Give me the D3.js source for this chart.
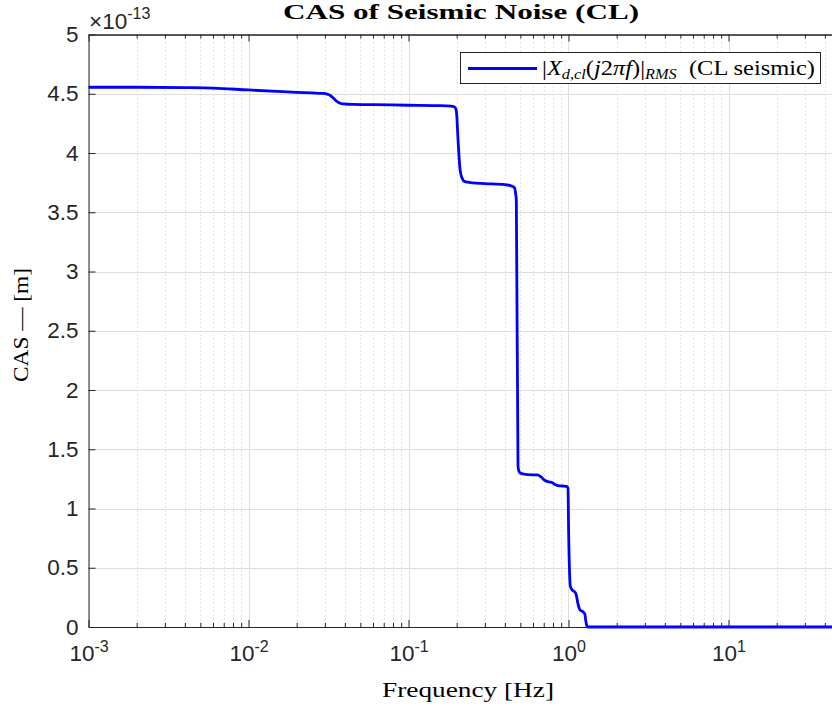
<!DOCTYPE html>
<meta charset="utf-8">
<style>

body {
  margin: 0;
  background: #fff;
}

svg {
  display: block;
}

.grid-major line {
  stroke: #dedede;
  stroke-width: 1px;
}

.grid-minor line {
  stroke: #c8c8c8;
  stroke-width: 1px;
  stroke-dasharray: 1,3;
}

.axis path,
.axis line {
  stroke: #262626;
  stroke-width: 1px;
}

.axis text,
.expo {
  font-family: "Liberation Sans", Arial, sans-serif;
  font-size: 22.5px;
  fill: #262626;
}

.serif {
  font-family: "Liberation Serif", "Times New Roman", serif;
  fill: #000;
}

.cas-line {
  fill: none;
  stroke: #0000ff;
  stroke-width: 2.8px;
  stroke-linejoin: round;
}

.legend-box {
  fill: #fff;
  stroke: #262626;
  stroke-width: 1px;
}

</style>
<body>
<script src="https://d3js.org/d3.v7.min.js"></script>
<script>

// frequency [Hz]
var freq = [0.001, 0.002, 0.004, 0.006, 0.01, 0.015, 0.02, 0.025, 0.029, 0.031,
  0.0325, 0.034, 0.0355, 0.037, 0.039, 0.045, 0.06, 0.1, 0.15, 0.185,
  0.193, 0.198, 0.2, 0.204, 0.21, 0.216, 0.225, 0.25, 0.3, 0.4,
  0.44, 0.46, 0.468, 0.472, 0.4835, 0.49, 0.498, 0.527, 0.6, 0.64,
  0.673, 0.713, 0.755, 0.789, 0.823, 0.86, 0.92, 0.975, 0.993, 1.002,
  1.029, 1.06, 1.095, 1.114, 1.147, 1.18, 1.21, 1.24, 1.265, 1.28,
  1.3, 1.324, 2, 5, 10, 50];

// cumulative amplitude spectrum, x 1e-13 m
var cas = [4.555, 4.555, 4.552, 4.548, 4.532, 4.52, 4.512, 4.507, 4.503, 4.497,
  4.485, 4.462, 4.437, 4.422, 4.415, 4.41, 4.408, 4.403, 4.40, 4.396,
  4.39, 4.37, 4.33, 4.11, 3.86, 3.79, 3.758, 3.748, 3.742, 3.734,
  3.722, 3.705, 3.65, 3.60, 1.36, 1.315, 1.3, 1.29, 1.284, 1.283,
  1.266, 1.236, 1.224, 1.219, 1.203, 1.194, 1.19, 1.186, 1.17, 0.80,
  0.338, 0.31, 0.295, 0.278, 0.194, 0.143, 0.135, 0.125, 0.11, 0.06,
  0.012, 0, 0, 0, 0, 0];

var xDecades = [1e-3, 1e-2, 1e-1, 1, 10];
var xDecadeExp = ["-3", "-2", "-1", "0", "1"];
var yTicks = [0, 0.5, 1, 1.5, 2, 2.5, 3, 3.5, 4, 4.5, 5];

var width = 832,
    height = 708,
    plotLeft = 88.5,
    plotTop = 34.5,
    plotBottom = 627;

// minor ticks 2..9 of each decade
var xMinor = [];
xDecades.forEach(function(d) {
  for (var k = 2; k <= 9; k++) xMinor.push(d * k);
});

var x = d3.scaleLog()
    .domain([1e-3, 50])
    .range([plotLeft, plotLeft + 160 * Math.log10(50 / 1e-3)]);

var y = d3.scaleLinear()
    .domain([0, 5])
    .range([plotBottom, plotTop]);

var svg = d3.select("body").append("svg")
    .attr("width", width)
    .attr("height", height);

// grid
svg.append("g")
    .attr("class", "grid-minor")
  .selectAll("line")
    .data(xMinor)
  .enter().append("line")
    .attr("x1", function(d) { return Math.round(x(d)) + 0.5; })
    .attr("x2", function(d) { return Math.round(x(d)) + 0.5; })
    .attr("y1", plotTop)
    .attr("y2", plotBottom);

var major = svg.append("g").attr("class", "grid-major");

major.selectAll("line.v")
    .data(xDecades)
  .enter().append("line")
    .attr("class", "v")
    .attr("x1", function(d) { return Math.round(x(d)) + 0.5; })
    .attr("x2", function(d) { return Math.round(x(d)) + 0.5; })
    .attr("y1", plotTop)
    .attr("y2", plotBottom);

major.selectAll("line.h")
    .data(yTicks)
  .enter().append("line")
    .attr("class", "h")
    .attr("x1", plotLeft)
    .attr("x2", width)
    .attr("y1", function(d) { return Math.round(y(d)) + 0.5; })
    .attr("y2", function(d) { return Math.round(y(d)) + 0.5; });

// data line
var line = d3.line()
    .x(function(d, i) { return x(freq[i]); })
    .y(function(d) { return y(d); })
    .curve(d3.curveMonotoneX);

svg.append("path")
    .datum(cas)
    .attr("class", "cas-line")
    .attr("d", line);

// axes
var xBottom = svg.append("g")
    .attr("class", "axis")
    .attr("transform", "translate(0," + plotBottom + ")")
    .call(d3.axisBottom(x).tickValues(xDecades).tickSizeInner(-7).tickSizeOuter(0).tickPadding(18));

xBottom.selectAll(".tick text")
    .text(null)
    .each(function(d, i) {
      var t = d3.select(this);
      t.append("tspan").text("10");
      t.append("tspan")
          .attr("dy", -9)
          .style("font-size", "16px")
          .text(xDecadeExp[i]);
    });

svg.append("g")
    .attr("class", "axis")
    .attr("transform", "translate(0," + plotBottom + ")")
    .call(d3.axisBottom(x).tickValues(xMinor).tickSizeInner(-4).tickSizeOuter(0).tickFormat(""));

svg.append("g")
    .attr("class", "axis")
    .attr("transform", "translate(0," + plotTop + ")")
    .call(d3.axisTop(x).tickValues(xDecades).tickSizeInner(-7).tickSizeOuter(0).tickFormat(""));

svg.append("g")
    .attr("class", "axis")
    .attr("transform", "translate(0," + plotTop + ")")
    .call(d3.axisTop(x).tickValues(xMinor).tickSizeInner(-4).tickSizeOuter(0).tickFormat(""));

svg.append("g")
    .attr("class", "axis")
    .attr("transform", "translate(" + plotLeft + ",0)")
    .call(d3.axisLeft(y).tickValues(yTicks).tickSizeInner(-7).tickSizeOuter(0)
      .tickPadding(10).tickFormat(d3.format("~g")));

// exponent
var expo = svg.append("text")
    .attr("class", "expo")
    .attr("x", 89)
    .attr("y", 29);
expo.append("tspan").text("\u00d710");
expo.append("tspan").attr("dy", -10).style("font-size", "16px").text("-13");

// title and labels
svg.append("text")
    .attr("class", "serif")
    .attr("x", 461)
    .attr("y", 19)
    .attr("text-anchor", "middle")
    .attr("font-weight", "bold")
    .attr("font-size", 21)
    .attr("textLength", 356)
    .attr("lengthAdjust", "spacingAndGlyphs")
    .text("CAS of Seismic Noise (CL)");

svg.append("text")
    .attr("class", "serif")
    .attr("x", 468)
    .attr("y", 697)
    .attr("text-anchor", "middle")
    .attr("font-size", 21)
    .attr("textLength", 172)
    .attr("lengthAdjust", "spacingAndGlyphs")
    .text("Frequency [Hz]");

svg.append("text")
    .attr("class", "serif")
    .attr("transform", "translate(28,325)rotate(-90)")
    .attr("text-anchor", "middle")
    .attr("font-size", 21)
    .attr("textLength", 114)
    .attr("lengthAdjust", "spacingAndGlyphs")
    .text("CAS \u2014 [m]");

// legend
var legend = svg.append("g");

legend.append("rect")
    .attr("class", "legend-box")
    .attr("x", 460.5)
    .attr("y", 52.5)
    .attr("width", 360)
    .attr("height", 31);

legend.append("line")
    .attr("x1", 468)
    .attr("x2", 537)
    .attr("y1", 68.5)
    .attr("y2", 68.5)
    .attr("stroke", "#0000ff")
    .attr("stroke-width", 2.8);

var lt = legend.append("text")
    .attr("class", "serif")
    .attr("x", 542)
    .attr("y", 75)
    .attr("font-size", 21)
    .attr("textLength", 273)
    .attr("lengthAdjust", "spacingAndGlyphs");

lt.append("tspan").text("|");
lt.append("tspan").attr("font-style", "italic").text("X");
lt.append("tspan").attr("font-style", "italic").attr("font-size", 14).attr("dy", 4).text("d,cl");
lt.append("tspan").attr("dy", -4).text("(");
lt.append("tspan").attr("font-style", "italic").text("j");
lt.append("tspan").text("2");
lt.append("tspan").attr("font-style", "italic").text("\u03c0f");
lt.append("tspan").text(")|");
lt.append("tspan").attr("font-style", "italic").attr("font-size", 14).attr("dy", 4).text("RMS");
lt.append("tspan").attr("dy", -4).text("\u2002(CL seismic)");

</script>
